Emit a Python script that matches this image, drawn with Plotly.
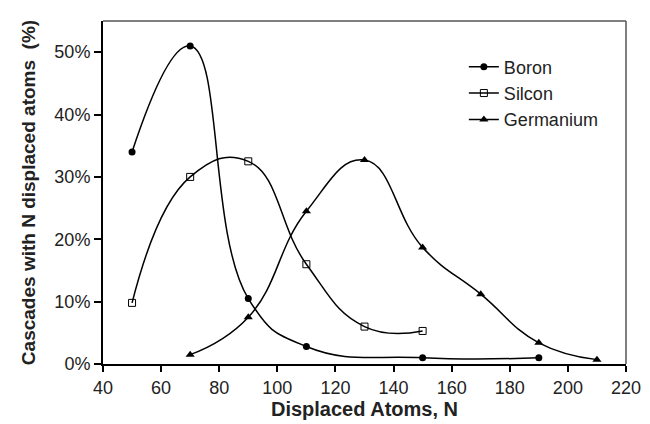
import plotly.graph_objects as go

boron_x = [50, 70, 90, 110, 150, 190]
boron_y = [34.0, 51.0, 10.5, 2.8, 1.0, 1.0]
silicon_x = [50, 70, 90, 110, 130, 150]
silicon_y = [9.8, 30.0, 32.5, 16.0, 6.0, 5.3]
germanium_x = [70, 90, 110, 130, 150, 170, 190, 210]
germanium_y = [1.5, 7.5, 24.5, 32.7, 18.7, 11.2, 3.4, 0.7]

x_ticks = [40, 60, 80, 100, 120, 140, 160, 180, 200, 220]
y_ticks = [0, 10, 20, 30, 40, 50]
y_labels = [f"{v}%" for v in y_ticks]

FONT = "Liberation Sans, Arial, sans-serif"

fig = go.Figure()
series = [
    ("Boron", boron_x, boron_y, dict(symbol="circle", size=7, color="black")),
    ("Silcon", silicon_x, silicon_y, dict(symbol="square-open", size=7, color="black", line=dict(width=1))),
    ("Germanium", germanium_x, germanium_y, dict(symbol="triangle-up", size=8, color="black")),
]
for name, xs, ys, mk in series:
    fig.add_trace(go.Scatter(
        x=xs, y=ys, name=name, mode="lines+markers",
        line=dict(color="black", width=1.5, shape="spline", smoothing=1.3),
        marker=mk,
    ))

fig.update_layout(
    width=650, height=424,
    margin=dict(l=95, r=32, t=13, b=68),
    paper_bgcolor="white", plot_bgcolor="white",
    font=dict(family=FONT, color="#222222", size=18),
    showlegend=True,
    legend=dict(x=0.69, y=0.92, xanchor="left", yanchor="top",
                bgcolor="rgba(0,0,0,0)", font=dict(size=18), tracegroupgap=0,
                itemwidth=30),
    xaxis=dict(range=[40, 220], tickmode="array", tickvals=x_ticks,
               showgrid=False, zeroline=False, showline=True, linecolor="black", linewidth=2,
               ticks="outside", ticklen=6, tickwidth=1.5, tickcolor="black",
               tickfont=dict(size=18), automargin=False,
               title=dict(text="<b>Displaced Atoms, N</b>", font=dict(size=20), standoff=4)),
    yaxis=dict(range=[0, 55], tickmode="array", tickvals=y_ticks, ticktext=y_labels,
               showgrid=False, zeroline=False, showline=True, linecolor="black", linewidth=2,
               ticks="outside", ticklen=7, tickwidth=1.5, tickcolor="black",
               tickfont=dict(size=18), automargin=False,
               title=dict(text="<b>Cascades with N displaced atoms&nbsp; (%)</b>", font=dict(size=19), standoff=14)),
)
fig.add_shape(type="line", xref="paper", yref="paper", x0=0, x1=1, y0=1, y1=1,
              line=dict(color="#555555", width=1.5))
fig.add_shape(type="line", xref="paper", yref="paper", x0=1, x1=1, y0=0, y1=1,
              line=dict(color="#555555", width=1.5))

fig.write_html("out.html")
